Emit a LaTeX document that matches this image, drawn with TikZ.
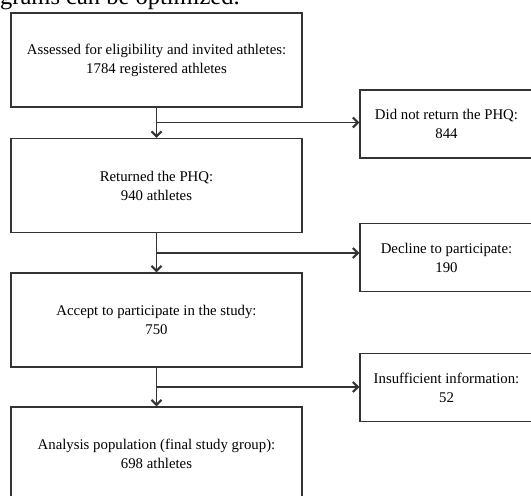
\documentclass[tikz,border=0pt]{standalone}
\usepackage{fontspec}
\setmainfont{Liberation Serif}
\usetikzlibrary{arrows.meta}

\begin{document}
\begin{tikzpicture}[x=1pt, y=-1pt, every node/.style={font=\fontsize{14.8}{19}\selectfont}]
        \tikzstyle{box} = [draw=black!80, line width=1.1pt, rectangle, align=center, inner sep=1pt, minimum width=291pt, minimum height=94pt]
        \tikzstyle{side} = [draw=black!80, line width=1.1pt, rectangle, align=center, inner sep=1pt, minimum width=173pt, minimum height=68pt]
        \tikzstyle{flow} = [->, >={Straight Barb[length=5pt, width=10pt, line width=2.2pt]}, line width=1.1pt, draw=black!80]
        \useasboundingbox (0,0) rectangle (531,496);
        \clip (0,0) rectangle (531,496);
        \node[anchor=base west, inner sep=0pt, font=\fontsize{24.5}{28}\selectfont] (T) at (0,4.5) {grams can be optimized.};
        % main column
        \node[box] (A) at (156.5, 60) {Assessed for eligibility and invited athletes:\\1784 registered athletes};
        \node[box] (P) at (156.5, 185.5) {Returned the PHQ:\\940 athletes};
        \node[box] (S) at (156.5, 320) {Accept to participate in the study:\\750};
        \node[box] (F) at (156.5, 454) {Analysis population (final study group):\\698 athletes};
        % excluded
        \node[side] (N) at (446.5, 124) {Did not return the PHQ:\\844};
        \node[side] (D) at (446.5, 257.5) {Decline to participate:\\190};
        \node[side] (I) at (446.5, 387.5) {Insufficient information:\\52};
        \coordinate (B1) at (156.5, 122.5);
        \coordinate (B2) at (156.5, 253);
        \coordinate (B3) at (156.5, 387);
        \draw[flow] (A) -- (P);
        \draw[flow] (P) -- (S);
        \draw[flow] (S) -- (F);
        \draw[flow] (B1) -- (B1 -| N.west);
        \draw[flow] (B2) -- (B2 -| D.west);
        \draw[flow] (B3) -- (B3 -| I.west);
      \end{tikzpicture}
\end{document}
